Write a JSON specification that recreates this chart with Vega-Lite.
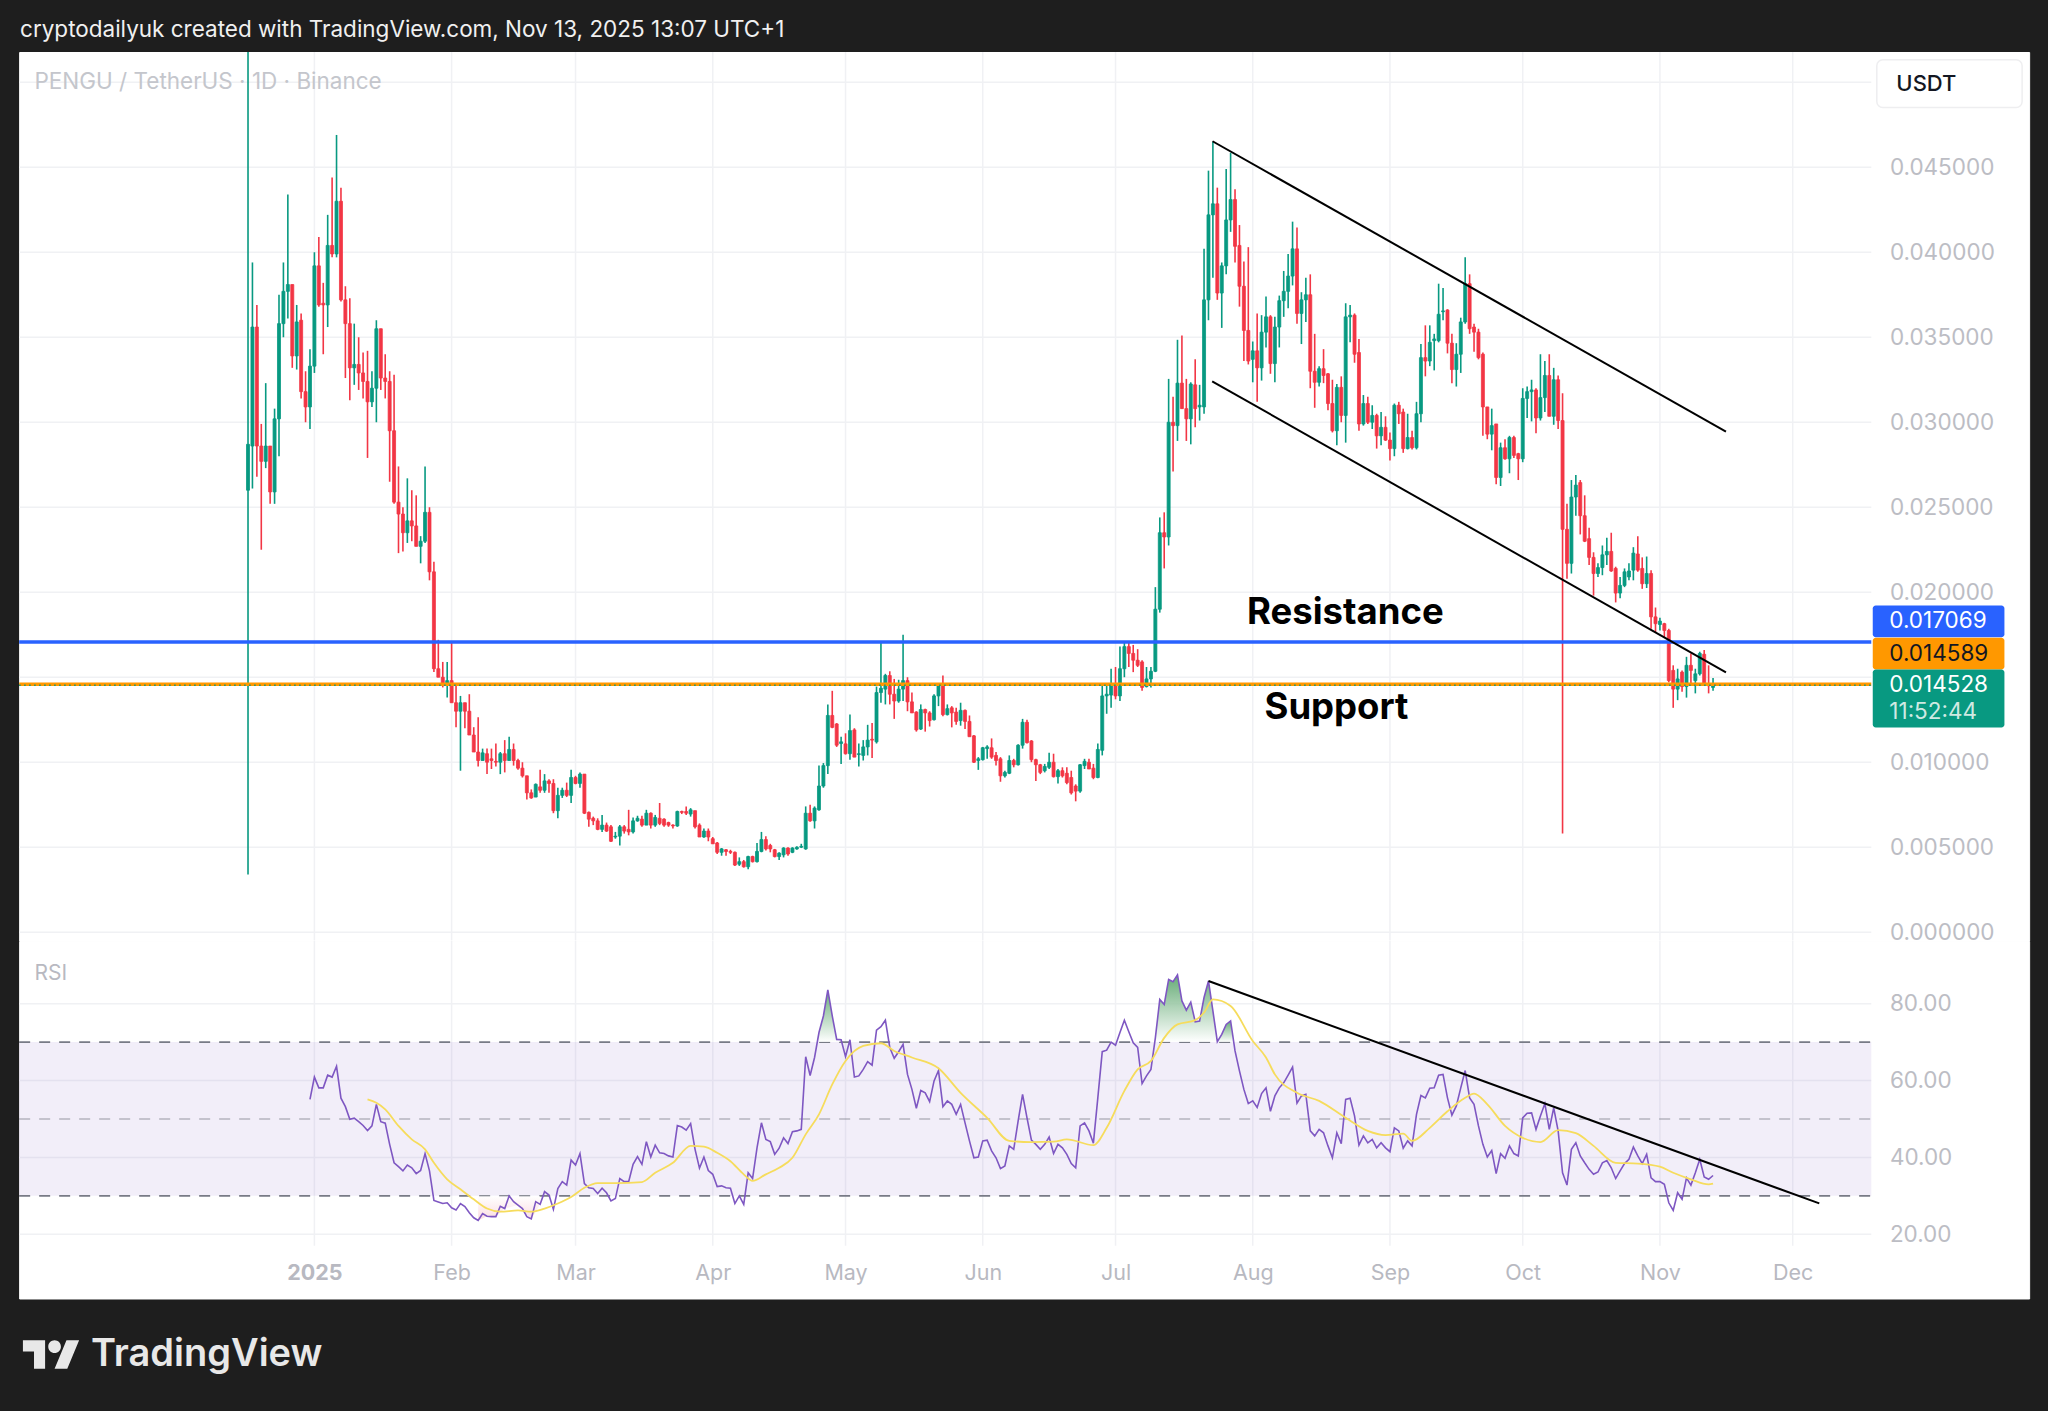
{
"$schema":"https://vega.github.io/schema/vega-lite/v6.json",
"background":"#1e1e1e",
"padding":{"left":16.15,"top":0,"right":19.25,"bottom":0},
"spacing":0,
"bounds":"flush",
"config":{"view":{"stroke":null},"font":"Inter","concat":{"spacing":0}},
"datasets":{
"months":[
{"d":"2025-01-01","plo":-0.000488,"phi":0.05178,"rlo":17,"rhi":96.3},
{"d":"2025-02-01","plo":-0.000488,"phi":0.05178,"rlo":17,"rhi":96.3},
{"d":"2025-03-01","plo":-0.000488,"phi":0.05178,"rlo":17,"rhi":96.3},
{"d":"2025-04-01","plo":-0.000488,"phi":0.05178,"rlo":17,"rhi":96.3},
{"d":"2025-05-01","plo":-0.000488,"phi":0.05178,"rlo":17,"rhi":96.3},
{"d":"2025-06-01","plo":-0.000488,"phi":0.05178,"rlo":17,"rhi":96.3},
{"d":"2025-07-01","plo":-0.000488,"phi":0.05178,"rlo":17,"rhi":96.3},
{"d":"2025-08-01","plo":-0.000488,"phi":0.05178,"rlo":17,"rhi":96.3},
{"d":"2025-09-01","plo":-0.000488,"phi":0.05178,"rlo":17,"rhi":96.3},
{"d":"2025-10-01","plo":-0.000488,"phi":0.05178,"rlo":17,"rhi":96.3},
{"d":"2025-11-01","plo":-0.000488,"phi":0.05178,"rlo":17,"rhi":96.3},
{"d":"2025-12-01","plo":-0.000488,"phi":0.05178,"rlo":17,"rhi":96.3}],
"ohlc":[
{"d":"2024-12-17","o":0.026,"h":0.05178,"l":0.0034,"c":0.0287},
{"d":"2024-12-18","o":0.0286,"h":0.0394,"l":0.0261,"c":0.0356},
{"d":"2024-12-19","o":0.0356,"h":0.0369,"l":0.0268,"c":0.0286},
{"d":"2024-12-20","o":0.0286,"h":0.0299,"l":0.0225,"c":0.0277},
{"d":"2024-12-21","o":0.0277,"h":0.0323,"l":0.0273,"c":0.0286},
{"d":"2024-12-22","o":0.0286,"h":0.0286,"l":0.0252,"c":0.0259},
{"d":"2024-12-23","o":0.0259,"h":0.0308,"l":0.0252,"c":0.0302},
{"d":"2024-12-24","o":0.0302,"h":0.0375,"l":0.028,"c":0.0358},
{"d":"2024-12-25","o":0.0358,"h":0.0394,"l":0.035,"c":0.0377},
{"d":"2024-12-26","o":0.0377,"h":0.0434,"l":0.0361,"c":0.0381},
{"d":"2024-12-27","o":0.0381,"h":0.0381,"l":0.0332,"c":0.0339},
{"d":"2024-12-28","o":0.0339,"h":0.0369,"l":0.0331,"c":0.0359},
{"d":"2024-12-29","o":0.036,"h":0.0364,"l":0.0314,"c":0.0318},
{"d":"2024-12-30","o":0.0318,"h":0.033,"l":0.03,"c":0.0309},
{"d":"2024-12-31","o":0.0309,"h":0.0343,"l":0.0296,"c":0.0333},
{"d":"2025-01-01","o":0.0333,"h":0.04,"l":0.0329,"c":0.0392},
{"d":"2025-01-02","o":0.0392,"h":0.0409,"l":0.0368,"c":0.0369},
{"d":"2025-01-03","o":0.037,"h":0.0382,"l":0.034,"c":0.0369},
{"d":"2025-01-04","o":0.0369,"h":0.0422,"l":0.0356,"c":0.0404},
{"d":"2025-01-05","o":0.0404,"h":0.0444,"l":0.0397,"c":0.0399},
{"d":"2025-01-06","o":0.0399,"h":0.0469,"l":0.0397,"c":0.043},
{"d":"2025-01-07","o":0.043,"h":0.0438,"l":0.0371,"c":0.0372},
{"d":"2025-01-08","o":0.0372,"h":0.038,"l":0.0326,"c":0.0358},
{"d":"2025-01-09","o":0.0358,"h":0.0373,"l":0.0313,"c":0.0332},
{"d":"2025-01-10","o":0.0332,"h":0.0358,"l":0.0322,"c":0.0334},
{"d":"2025-01-11","o":0.0334,"h":0.035,"l":0.0319,"c":0.0329},
{"d":"2025-01-12","o":0.0329,"h":0.0341,"l":0.0314,"c":0.0324},
{"d":"2025-01-13","o":0.0324,"h":0.0342,"l":0.0279,"c":0.0312},
{"d":"2025-01-14","o":0.0312,"h":0.033,"l":0.0309,"c":0.032},
{"d":"2025-01-15","o":0.032,"h":0.036,"l":0.03,"c":0.0355},
{"d":"2025-01-16","o":0.0355,"h":0.0355,"l":0.0319,"c":0.0326},
{"d":"2025-01-17","o":0.0326,"h":0.034,"l":0.0314,"c":0.0324},
{"d":"2025-01-18","o":0.0324,"h":0.033,"l":0.0265,"c":0.0295},
{"d":"2025-01-19","o":0.0295,"h":0.0328,"l":0.0252,"c":0.0253},
{"d":"2025-01-20","o":0.0253,"h":0.0274,"l":0.0223,"c":0.0246},
{"d":"2025-01-21","o":0.0246,"h":0.025,"l":0.0224,"c":0.0235},
{"d":"2025-01-22","o":0.0235,"h":0.0267,"l":0.0229,"c":0.0242},
{"d":"2025-01-23","o":0.0242,"h":0.026,"l":0.023,"c":0.0239},
{"d":"2025-01-24","o":0.0239,"h":0.0257,"l":0.0227,"c":0.0227},
{"d":"2025-01-25","o":0.0227,"h":0.0233,"l":0.0217,"c":0.023},
{"d":"2025-01-26","o":0.023,"h":0.0274,"l":0.0229,"c":0.0247},
{"d":"2025-01-27","o":0.0247,"h":0.025,"l":0.0207,"c":0.0212},
{"d":"2025-01-28","o":0.0212,"h":0.0218,"l":0.0153,"c":0.0155},
{"d":"2025-01-29","o":0.0155,"h":0.0172,"l":0.015,"c":0.015},
{"d":"2025-01-30","o":0.015,"h":0.0159,"l":0.0144,"c":0.0146},
{"d":"2025-01-31","o":0.0146,"h":0.0159,"l":0.0138,"c":0.0148},
{"d":"2025-02-01","o":0.0148,"h":0.0171,"l":0.0135,"c":0.0135},
{"d":"2025-02-02","o":0.0135,"h":0.0146,"l":0.01205,"c":0.013},
{"d":"2025-02-03","o":0.013,"h":0.0139,"l":0.0095,"c":0.0135},
{"d":"2025-02-04","o":0.0135,"h":0.0135,"l":0.012,"c":0.013},
{"d":"2025-02-05","o":0.013,"h":0.014,"l":0.0116,"c":0.0116},
{"d":"2025-02-06","o":0.0116,"h":0.01206,"l":0.0106,"c":0.0106},
{"d":"2025-02-07","o":0.0106,"h":0.01265,"l":0.00975,"c":0.0101},
{"d":"2025-02-08","o":0.0101,"h":0.0108,"l":0.0101,"c":0.01055},
{"d":"2025-02-09","o":0.0105,"h":0.0108,"l":0.0093,"c":0.01},
{"d":"2025-02-10","o":0.0102,"h":0.0108,"l":0.0096,"c":0.0101},
{"d":"2025-02-11","o":0.01005,"h":0.0111,"l":0.00975,"c":0.01},
{"d":"2025-02-12","o":0.01,"h":0.0106,"l":0.0093,"c":0.0105},
{"d":"2025-02-13","o":0.0105,"h":0.0113,"l":0.0094,"c":0.0101},
{"d":"2025-02-14","o":0.0101,"h":0.0115,"l":0.0101,"c":0.01075},
{"d":"2025-02-15","o":0.01075,"h":0.0111,"l":0.0098,"c":0.0101},
{"d":"2025-02-16","o":0.0101,"h":0.0102,"l":0.00955,"c":0.00965},
{"d":"2025-02-17","o":0.00965,"h":0.01,"l":0.0091,"c":0.0092},
{"d":"2025-02-18","o":0.0092,"h":0.0092,"l":0.0078,"c":0.0082},
{"d":"2025-02-19","o":0.0082,"h":0.0084,"l":0.00785,"c":0.0079},
{"d":"2025-02-20","o":0.00795,"h":0.00875,"l":0.00795,"c":0.0087},
{"d":"2025-02-21","o":0.00855,"h":0.00955,"l":0.0082,"c":0.00835},
{"d":"2025-02-22","o":0.00835,"h":0.0093,"l":0.0082,"c":0.0089},
{"d":"2025-02-23","o":0.0089,"h":0.009,"l":0.0082,"c":0.00875},
{"d":"2025-02-24","o":0.00875,"h":0.009,"l":0.007,"c":0.00715},
{"d":"2025-02-25","o":0.00715,"h":0.0085,"l":0.0067,"c":0.00805},
{"d":"2025-02-26","o":0.00805,"h":0.0085,"l":0.0079,"c":0.00835},
{"d":"2025-02-27","o":0.00835,"h":0.0088,"l":0.00795,"c":0.00805},
{"d":"2025-02-28","o":0.00805,"h":0.00955,"l":0.0076,"c":0.0091},
{"d":"2025-03-01","o":0.0091,"h":0.0092,"l":0.0087,"c":0.00875},
{"d":"2025-03-02","o":0.00875,"h":0.0094,"l":0.0085,"c":0.0093},
{"d":"2025-03-03","o":0.0093,"h":0.0093,"l":0.00695,"c":0.007},
{"d":"2025-03-04","o":0.00705,"h":0.0071,"l":0.0062,"c":0.00665},
{"d":"2025-03-05","o":0.0067,"h":0.0068,"l":0.0063,"c":0.00655},
{"d":"2025-03-06","o":0.00655,"h":0.0067,"l":0.006,"c":0.00605},
{"d":"2025-03-07","o":0.00605,"h":0.0069,"l":0.0059,"c":0.0063},
{"d":"2025-03-08","o":0.0063,"h":0.00645,"l":0.0059,"c":0.00595},
{"d":"2025-03-09","o":0.0062,"h":0.0063,"l":0.0053,"c":0.00535},
{"d":"2025-03-10","o":0.0056,"h":0.0059,"l":0.0055,"c":0.00565},
{"d":"2025-03-11","o":0.00565,"h":0.0063,"l":0.0051,"c":0.0062},
{"d":"2025-03-12","o":0.0062,"h":0.0063,"l":0.0058,"c":0.00595},
{"d":"2025-03-13","o":0.00605,"h":0.0072,"l":0.0057,"c":0.0059},
{"d":"2025-03-14","o":0.0059,"h":0.00675,"l":0.0058,"c":0.00655},
{"d":"2025-03-15","o":0.00655,"h":0.00685,"l":0.0065,"c":0.0067},
{"d":"2025-03-16","o":0.00665,"h":0.00685,"l":0.0062,"c":0.0063},
{"d":"2025-03-17","o":0.0063,"h":0.0072,"l":0.0063,"c":0.007},
{"d":"2025-03-18","o":0.007,"h":0.00705,"l":0.0061,"c":0.0063},
{"d":"2025-03-19","o":0.0063,"h":0.0069,"l":0.0062,"c":0.00675},
{"d":"2025-03-20","o":0.0067,"h":0.0076,"l":0.0063,"c":0.0064},
{"d":"2025-03-21","o":0.00665,"h":0.0067,"l":0.0062,"c":0.0063},
{"d":"2025-03-22","o":0.00645,"h":0.0065,"l":0.0062,"c":0.0063},
{"d":"2025-03-23","o":0.0063,"h":0.00635,"l":0.0061,"c":0.00625},
{"d":"2025-03-24","o":0.00625,"h":0.00715,"l":0.0062,"c":0.0071},
{"d":"2025-03-25","o":0.0071,"h":0.00715,"l":0.00695,"c":0.00705},
{"d":"2025-03-26","o":0.0071,"h":0.0074,"l":0.0069,"c":0.007},
{"d":"2025-03-27","o":0.00695,"h":0.0073,"l":0.0068,"c":0.0072},
{"d":"2025-03-28","o":0.00715,"h":0.00715,"l":0.0061,"c":0.0062},
{"d":"2025-03-29","o":0.0063,"h":0.0064,"l":0.0056,"c":0.0056},
{"d":"2025-03-30","o":0.0056,"h":0.0061,"l":0.00555,"c":0.00595},
{"d":"2025-03-31","o":0.00595,"h":0.0061,"l":0.00535,"c":0.0056},
{"d":"2025-04-01","o":0.0055,"h":0.0056,"l":0.0052,"c":0.0052},
{"d":"2025-04-02","o":0.00525,"h":0.0053,"l":0.0046,"c":0.0047},
{"d":"2025-04-03","o":0.0047,"h":0.00495,"l":0.0045,"c":0.0049},
{"d":"2025-04-04","o":0.00485,"h":0.0049,"l":0.0045,"c":0.00475},
{"d":"2025-04-05","o":0.00475,"h":0.00485,"l":0.0046,"c":0.0047},
{"d":"2025-04-06","o":0.0047,"h":0.00475,"l":0.0039,"c":0.00395},
{"d":"2025-04-07","o":0.004,"h":0.0044,"l":0.0039,"c":0.00415},
{"d":"2025-04-08","o":0.00415,"h":0.00425,"l":0.0038,"c":0.00385},
{"d":"2025-04-09","o":0.00385,"h":0.0045,"l":0.0037,"c":0.00445},
{"d":"2025-04-10","o":0.00445,"h":0.0045,"l":0.0041,"c":0.00415},
{"d":"2025-04-11","o":0.00415,"h":0.00525,"l":0.0041,"c":0.00475},
{"d":"2025-04-12","o":0.00475,"h":0.0059,"l":0.0047,"c":0.00545},
{"d":"2025-04-13","o":0.00545,"h":0.00565,"l":0.0048,"c":0.0049},
{"d":"2025-04-14","o":0.0051,"h":0.0052,"l":0.0047,"c":0.0049},
{"d":"2025-04-15","o":0.00485,"h":0.0049,"l":0.0044,"c":0.00445},
{"d":"2025-04-16","o":0.00445,"h":0.0047,"l":0.00425,"c":0.00465},
{"d":"2025-04-17","o":0.00455,"h":0.005,"l":0.0044,"c":0.00495},
{"d":"2025-04-18","o":0.00495,"h":0.005,"l":0.0045,"c":0.0046},
{"d":"2025-04-19","o":0.0047,"h":0.005,"l":0.00465,"c":0.00495},
{"d":"2025-04-20","o":0.0049,"h":0.00505,"l":0.00485,"c":0.005},
{"d":"2025-04-21","o":0.005,"h":0.0052,"l":0.00495,"c":0.00505},
{"d":"2025-04-22","o":0.0049,"h":0.0074,"l":0.00485,"c":0.007},
{"d":"2025-04-23","o":0.007,"h":0.0075,"l":0.0065,"c":0.00655},
{"d":"2025-04-24","o":0.00655,"h":0.0074,"l":0.0061,"c":0.0073},
{"d":"2025-04-25","o":0.0072,"h":0.0098,"l":0.00715,"c":0.0086},
{"d":"2025-04-26","o":0.0086,"h":0.00995,"l":0.0085,"c":0.0098},
{"d":"2025-04-27","o":0.0098,"h":0.0134,"l":0.0093,"c":0.01275},
{"d":"2025-04-28","o":0.01275,"h":0.0142,"l":0.012,"c":0.01205},
{"d":"2025-04-29","o":0.01225,"h":0.0123,"l":0.0109,"c":0.011},
{"d":"2025-04-30","o":0.0111,"h":0.0115,"l":0.0099,"c":0.0112},
{"d":"2025-05-01","o":0.01108,"h":0.0117,"l":0.01045,"c":0.0105},
{"d":"2025-05-02","o":0.0105,"h":0.0128,"l":0.01015,"c":0.01186},
{"d":"2025-05-03","o":0.0119,"h":0.012,"l":0.0103,"c":0.0103},
{"d":"2025-05-04","o":0.01045,"h":0.0111,"l":0.00975,"c":0.0105},
{"d":"2025-05-05","o":0.0104,"h":0.0113,"l":0.0101,"c":0.0109},
{"d":"2025-05-06","o":0.0109,"h":0.0122,"l":0.0104,"c":0.0113},
{"d":"2025-05-07","o":0.01135,"h":0.0123,"l":0.01025,"c":0.0113},
{"d":"2025-05-08","o":0.0112,"h":0.01445,"l":0.0111,"c":0.0141},
{"d":"2025-05-09","o":0.0141,"h":0.01705,"l":0.0135,"c":0.01435},
{"d":"2025-05-10","o":0.0143,"h":0.0152,"l":0.0134,"c":0.0151},
{"d":"2025-05-11","o":0.0151,"h":0.01535,"l":0.0134,"c":0.014},
{"d":"2025-05-12","o":0.014,"h":0.0149,"l":0.01255,"c":0.0136},
{"d":"2025-05-13","o":0.0136,"h":0.01485,"l":0.0135,"c":0.0143},
{"d":"2025-05-14","o":0.0143,"h":0.0175,"l":0.0136,"c":0.0148},
{"d":"2025-05-15","o":0.0148,"h":0.015,"l":0.013,"c":0.01355},
{"d":"2025-05-16","o":0.01355,"h":0.0141,"l":0.0129,"c":0.0129},
{"d":"2025-05-17","o":0.01295,"h":0.013,"l":0.0118,"c":0.0119},
{"d":"2025-05-18","o":0.01195,"h":0.0134,"l":0.0119,"c":0.0131},
{"d":"2025-05-19","o":0.0131,"h":0.01315,"l":0.0118,"c":0.0129},
{"d":"2025-05-20","o":0.0129,"h":0.0130,"l":0.0121,"c":0.01245},
{"d":"2025-05-21","o":0.0125,"h":0.014,"l":0.01245,"c":0.0139},
{"d":"2025-05-22","o":0.0139,"h":0.01465,"l":0.0133,"c":0.01455},
{"d":"2025-05-23","o":0.01455,"h":0.0151,"l":0.0127,"c":0.0128},
{"d":"2025-05-24","o":0.0128,"h":0.0134,"l":0.01275,"c":0.01315},
{"d":"2025-05-25","o":0.0132,"h":0.0133,"l":0.01205,"c":0.0129},
{"d":"2025-05-26","o":0.01295,"h":0.0132,"l":0.0122,"c":0.0124},
{"d":"2025-05-27","o":0.01245,"h":0.0135,"l":0.01215,"c":0.01305},
{"d":"2025-05-28","o":0.01305,"h":0.0131,"l":0.01196,"c":0.0124},
{"d":"2025-05-29","o":0.0124,"h":0.01275,"l":0.0115,"c":0.0115},
{"d":"2025-05-30","o":0.01155,"h":0.0116,"l":0.00995,"c":0.01},
{"d":"2025-05-31","o":0.0101,"h":0.0103,"l":0.00955,"c":0.0102},
{"d":"2025-06-01","o":0.01015,"h":0.0109,"l":0.0101,"c":0.01085},
{"d":"2025-06-02","o":0.0108,"h":0.011,"l":0.0102,"c":0.0109},
{"d":"2025-06-03","o":0.01085,"h":0.0114,"l":0.0102,"c":0.0103},
{"d":"2025-06-04","o":0.0104,"h":0.0106,"l":0.0098,"c":0.0101},
{"d":"2025-06-05","o":0.0102,"h":0.0103,"l":0.00885,"c":0.0092},
{"d":"2025-06-06","o":0.0092,"h":0.0095,"l":0.0091,"c":0.0094},
{"d":"2025-06-07","o":0.00935,"h":0.0104,"l":0.0093,"c":0.0101},
{"d":"2025-06-08","o":0.0101,"h":0.0102,"l":0.0097,"c":0.00985},
{"d":"2025-06-09","o":0.00985,"h":0.01105,"l":0.0098,"c":0.011},
{"d":"2025-06-10","o":0.011,"h":0.01255,"l":0.0108,"c":0.01235},
{"d":"2025-06-11","o":0.01235,"h":0.0125,"l":0.0111,"c":0.01115},
{"d":"2025-06-12","o":0.01125,"h":0.0113,"l":0.01,"c":0.01015},
{"d":"2025-06-13","o":0.01015,"h":0.0102,"l":0.0089,"c":0.00985},
{"d":"2025-06-14","o":0.00985,"h":0.0099,"l":0.0093,"c":0.0094},
{"d":"2025-06-15","o":0.0095,"h":0.0099,"l":0.0094,"c":0.00975},
{"d":"2025-06-16","o":0.0097,"h":0.01055,"l":0.0096,"c":0.01},
{"d":"2025-06-17","o":0.01,"h":0.0105,"l":0.0091,"c":0.00915},
{"d":"2025-06-18","o":0.00915,"h":0.0096,"l":0.00875,"c":0.0095},
{"d":"2025-06-19","o":0.0095,"h":0.0097,"l":0.0091,"c":0.0092},
{"d":"2025-06-20","o":0.00935,"h":0.0097,"l":0.0087,"c":0.0088},
{"d":"2025-06-21","o":0.0091,"h":0.0095,"l":0.0081,"c":0.0082},
{"d":"2025-06-22","o":0.0086,"h":0.0087,"l":0.0077,"c":0.0083},
{"d":"2025-06-23","o":0.0083,"h":0.0099,"l":0.0082,"c":0.00985},
{"d":"2025-06-24","o":0.0098,"h":0.0102,"l":0.0096,"c":0.01005},
{"d":"2025-06-25","o":0.01,"h":0.0102,"l":0.0096,"c":0.0096},
{"d":"2025-06-26","o":0.00965,"h":0.0099,"l":0.009,"c":0.0091},
{"d":"2025-06-27","o":0.0091,"h":0.0111,"l":0.00905,"c":0.01075},
{"d":"2025-06-28","o":0.0107,"h":0.0145,"l":0.0104,"c":0.0139},
{"d":"2025-06-29","o":0.0139,"h":0.0146,"l":0.01285,"c":0.014},
{"d":"2025-06-30","o":0.01395,"h":0.0155,"l":0.0132,"c":0.0146},
{"d":"2025-07-01","o":0.0146,"h":0.0156,"l":0.0137,"c":0.0139},
{"d":"2025-07-02","o":0.0139,"h":0.0168,"l":0.0136,"c":0.0155},
{"d":"2025-07-03","o":0.0155,"h":0.01705,"l":0.015,"c":0.0168},
{"d":"2025-07-04","o":0.0168,"h":0.0171,"l":0.0156,"c":0.0164},
{"d":"2025-07-05","o":0.0164,"h":0.0169,"l":0.0153,"c":0.016},
{"d":"2025-07-06","o":0.016,"h":0.01665,"l":0.0156,"c":0.0157},
{"d":"2025-07-07","o":0.0159,"h":0.016,"l":0.0142,"c":0.0144},
{"d":"2025-07-08","o":0.01445,"h":0.0156,"l":0.0144,"c":0.0149},
{"d":"2025-07-09","o":0.0149,"h":0.0156,"l":0.0144,"c":0.01535},
{"d":"2025-07-10","o":0.01535,"h":0.0203,"l":0.0153,"c":0.019},
{"d":"2025-07-11","o":0.019,"h":0.0244,"l":0.0188,"c":0.0235},
{"d":"2025-07-12","o":0.0235,"h":0.0247,"l":0.0214,"c":0.02325},
{"d":"2025-07-13","o":0.02325,"h":0.03255,"l":0.02275,"c":0.03},
{"d":"2025-07-14","o":0.03,"h":0.0315,"l":0.0271,"c":0.0298},
{"d":"2025-07-15","o":0.0298,"h":0.03485,"l":0.0289,"c":0.0323},
{"d":"2025-07-16","o":0.0323,"h":0.0351,"l":0.0308,"c":0.0308},
{"d":"2025-07-17","o":0.0308,"h":0.03255,"l":0.0289,"c":0.0302},
{"d":"2025-07-18","o":0.0302,"h":0.03235,"l":0.0287,"c":0.03225},
{"d":"2025-07-19","o":0.0322,"h":0.0337,"l":0.0297,"c":0.0308},
{"d":"2025-07-20","o":0.0309,"h":0.0322,"l":0.0301,"c":0.031},
{"d":"2025-07-21","o":0.0309,"h":0.0402,"l":0.0305,"c":0.0372},
{"d":"2025-07-22","o":0.0372,"h":0.0448,"l":0.036,"c":0.0422},
{"d":"2025-07-23","o":0.0422,"h":0.0465,"l":0.0385,"c":0.04285},
{"d":"2025-07-24","o":0.04285,"h":0.0438,"l":0.0372,"c":0.0376},
{"d":"2025-07-25","o":0.0376,"h":0.0394,"l":0.03555,"c":0.0392},
{"d":"2025-07-26","o":0.0392,"h":0.0449,"l":0.0387,"c":0.0419},
{"d":"2025-07-27","o":0.0419,"h":0.04585,"l":0.0412,"c":0.0431},
{"d":"2025-07-28","o":0.0431,"h":0.0437,"l":0.0394,"c":0.04035},
{"d":"2025-07-29","o":0.0404,"h":0.0416,"l":0.0368,"c":0.038},
{"d":"2025-07-30","o":0.038,"h":0.03945,"l":0.0336,"c":0.0354},
{"d":"2025-07-31","o":0.0354,"h":0.0403,"l":0.0334,"c":0.0336},
{"d":"2025-08-01","o":0.0337,"h":0.03475,"l":0.03235,"c":0.0342},
{"d":"2025-08-02","o":0.0342,"h":0.0364,"l":0.0312,"c":0.0332},
{"d":"2025-08-03","o":0.0332,"h":0.0363,"l":0.03245,"c":0.0353},
{"d":"2025-08-04","o":0.0353,"h":0.0374,"l":0.0344,"c":0.0362},
{"d":"2025-08-05","o":0.0362,"h":0.0363,"l":0.03285,"c":0.03345},
{"d":"2025-08-06","o":0.03345,"h":0.0362,"l":0.03235,"c":0.0356},
{"d":"2025-08-07","o":0.0356,"h":0.03745,"l":0.0344,"c":0.03715},
{"d":"2025-08-08","o":0.03715,"h":0.0389,"l":0.0362,"c":0.0377},
{"d":"2025-08-09","o":0.0377,"h":0.0399,"l":0.0367,"c":0.0386},
{"d":"2025-08-10","o":0.0386,"h":0.0418,"l":0.03805,"c":0.0402},
{"d":"2025-08-11","o":0.0402,"h":0.04145,"l":0.0358,"c":0.0364},
{"d":"2025-08-12","o":0.0364,"h":0.03765,"l":0.0346,"c":0.0372},
{"d":"2025-08-13","o":0.0372,"h":0.0385,"l":0.0359,"c":0.0375},
{"d":"2025-08-14","o":0.0375,"h":0.0387,"l":0.032,"c":0.033},
{"d":"2025-08-15","o":0.033,"h":0.0352,"l":0.03085,"c":0.03235},
{"d":"2025-08-16","o":0.03235,"h":0.0333,"l":0.0321,"c":0.03315},
{"d":"2025-08-17","o":0.03315,"h":0.0343,"l":0.0323,"c":0.03275},
{"d":"2025-08-18","o":0.03285,"h":0.0329,"l":0.0307,"c":0.0311},
{"d":"2025-08-19","o":0.0311,"h":0.0325,"l":0.0294,"c":0.0295},
{"d":"2025-08-20","o":0.0295,"h":0.03225,"l":0.02865,"c":0.03205},
{"d":"2025-08-21","o":0.03205,"h":0.0327,"l":0.03,"c":0.0304},
{"d":"2025-08-22","o":0.0304,"h":0.037,"l":0.0288,"c":0.0362},
{"d":"2025-08-23","o":0.0362,"h":0.0369,"l":0.0347,"c":0.0363},
{"d":"2025-08-24","o":0.0363,"h":0.0364,"l":0.0335,"c":0.034},
{"d":"2025-08-25","o":0.0341,"h":0.0349,"l":0.0295,"c":0.0299},
{"d":"2025-08-26","o":0.0299,"h":0.0316,"l":0.0298,"c":0.0311},
{"d":"2025-08-27","o":0.0311,"h":0.0315,"l":0.0299,"c":0.03},
{"d":"2025-08-28","o":0.03,"h":0.031,"l":0.0296,"c":0.0304},
{"d":"2025-08-29","o":0.0304,"h":0.0305,"l":0.02845,"c":0.0292},
{"d":"2025-08-30","o":0.0292,"h":0.0306,"l":0.02865,"c":0.0297},
{"d":"2025-08-31","o":0.0297,"h":0.03035,"l":0.0289,"c":0.02895},
{"d":"2025-09-01","o":0.02895,"h":0.0294,"l":0.02775,"c":0.02845},
{"d":"2025-09-02","o":0.02845,"h":0.0311,"l":0.028,"c":0.031},
{"d":"2025-09-03","o":0.031,"h":0.0312,"l":0.0299,"c":0.0305},
{"d":"2025-09-04","o":0.0306,"h":0.0308,"l":0.0282,"c":0.02845},
{"d":"2025-09-05","o":0.02845,"h":0.0305,"l":0.0284,"c":0.0291},
{"d":"2025-09-06","o":0.0291,"h":0.0295,"l":0.0284,"c":0.0285},
{"d":"2025-09-07","o":0.0285,"h":0.0312,"l":0.0284,"c":0.0305},
{"d":"2025-09-08","o":0.0305,"h":0.0346,"l":0.03,"c":0.0338},
{"d":"2025-09-09","o":0.0338,"h":0.0357,"l":0.0327,"c":0.0336},
{"d":"2025-09-10","o":0.0336,"h":0.0357,"l":0.0333,"c":0.0347},
{"d":"2025-09-11","o":0.0348,"h":0.0352,"l":0.03305,"c":0.0349},
{"d":"2025-09-12","o":0.0348,"h":0.03815,"l":0.0347,"c":0.03635},
{"d":"2025-09-13","o":0.0365,"h":0.0379,"l":0.036,"c":0.03655},
{"d":"2025-09-14","o":0.0366,"h":0.03665,"l":0.03405,"c":0.03465},
{"d":"2025-09-15","o":0.03465,"h":0.0352,"l":0.0323,"c":0.0331},
{"d":"2025-09-16","o":0.0331,"h":0.03465,"l":0.0321,"c":0.034},
{"d":"2025-09-17","o":0.034,"h":0.03615,"l":0.0329,"c":0.0359},
{"d":"2025-09-18","o":0.0359,"h":0.0397,"l":0.0358,"c":0.03815},
{"d":"2025-09-19","o":0.03815,"h":0.0387,"l":0.0352,"c":0.0355},
{"d":"2025-09-20","o":0.0356,"h":0.0358,"l":0.03415,"c":0.0353},
{"d":"2025-09-21","o":0.0353,"h":0.0355,"l":0.0337,"c":0.0338},
{"d":"2025-09-22","o":0.034,"h":0.0341,"l":0.0292,"c":0.0309},
{"d":"2025-09-23","o":0.0309,"h":0.0309,"l":0.029,"c":0.0293},
{"d":"2025-09-24","o":0.0293,"h":0.0308,"l":0.02835,"c":0.0298},
{"d":"2025-09-25","o":0.0299,"h":0.0299,"l":0.02635,"c":0.02675},
{"d":"2025-09-26","o":0.02675,"h":0.0288,"l":0.02625,"c":0.0285},
{"d":"2025-09-27","o":0.0285,"h":0.029,"l":0.0278,"c":0.02785},
{"d":"2025-09-28","o":0.02785,"h":0.0292,"l":0.027,"c":0.0291},
{"d":"2025-09-29","o":0.0291,"h":0.0292,"l":0.0279,"c":0.02805},
{"d":"2025-09-30","o":0.02815,"h":0.0282,"l":0.0266,"c":0.02785},
{"d":"2025-10-01","o":0.02785,"h":0.032,"l":0.02765,"c":0.0314},
{"d":"2025-10-02","o":0.0314,"h":0.0321,"l":0.03025,"c":0.0318},
{"d":"2025-10-03","o":0.0318,"h":0.0325,"l":0.03005,"c":0.0319},
{"d":"2025-10-04","o":0.0319,"h":0.032,"l":0.02935,"c":0.03025},
{"d":"2025-10-05","o":0.03025,"h":0.034,"l":0.0301,"c":0.03145},
{"d":"2025-10-06","o":0.03145,"h":0.0336,"l":0.0306,"c":0.03275},
{"d":"2025-10-07","o":0.03275,"h":0.034,"l":0.03035,"c":0.03035},
{"d":"2025-10-08","o":0.03035,"h":0.0332,"l":0.02985,"c":0.0325},
{"d":"2025-10-09","o":0.0325,"h":0.03275,"l":0.0296,"c":0.0301},
{"d":"2025-10-10","o":0.0301,"h":0.0317,"l":0.0058,"c":0.0237},
{"d":"2025-10-11","o":0.0237,"h":0.0252,"l":0.0208,"c":0.0217},
{"d":"2025-10-12","o":0.0217,"h":0.0266,"l":0.0211,"c":0.0256},
{"d":"2025-10-13","o":0.0256,"h":0.0269,"l":0.0245,"c":0.0263},
{"d":"2025-10-14","o":0.02645,"h":0.0266,"l":0.0234,"c":0.0245},
{"d":"2025-10-15","o":0.0245,"h":0.0257,"l":0.02295,"c":0.023},
{"d":"2025-10-16","o":0.02315,"h":0.0238,"l":0.0216,"c":0.02205},
{"d":"2025-10-17","o":0.02205,"h":0.02235,"l":0.0198,"c":0.0211},
{"d":"2025-10-18","o":0.0211,"h":0.0217,"l":0.0209,"c":0.02145},
{"d":"2025-10-19","o":0.02145,"h":0.02275,"l":0.021,"c":0.0222},
{"d":"2025-10-20","o":0.0222,"h":0.0232,"l":0.0216,"c":0.0224},
{"d":"2025-10-21","o":0.0224,"h":0.0235,"l":0.0212,"c":0.02125},
{"d":"2025-10-22","o":0.0214,"h":0.0215,"l":0.0194,"c":0.01995},
{"d":"2025-10-23","o":0.01995,"h":0.0209,"l":0.01965,"c":0.0204},
{"d":"2025-10-24","o":0.0204,"h":0.0214,"l":0.0203,"c":0.0212},
{"d":"2025-10-25","o":0.0209,"h":0.0217,"l":0.0207,"c":0.02125},
{"d":"2025-10-26","o":0.0213,"h":0.02265,"l":0.0207,"c":0.0223},
{"d":"2025-10-27","o":0.02225,"h":0.0233,"l":0.0212,"c":0.0213},
{"d":"2025-10-28","o":0.0214,"h":0.02205,"l":0.0202,"c":0.0205},
{"d":"2025-10-29","o":0.0205,"h":0.0221,"l":0.02025,"c":0.0211},
{"d":"2025-10-30","o":0.0211,"h":0.0213,"l":0.01785,"c":0.01855},
{"d":"2025-10-31","o":0.01855,"h":0.0191,"l":0.0176,"c":0.01815},
{"d":"2025-11-01","o":0.0181,"h":0.0185,"l":0.01775,"c":0.0183},
{"d":"2025-11-02","o":0.01815,"h":0.0182,"l":0.01735,"c":0.01775},
{"d":"2025-11-03","o":0.01775,"h":0.01785,"l":0.0147,"c":0.0148},
{"d":"2025-11-04","o":0.0154,"h":0.0157,"l":0.0132,"c":0.0143},
{"d":"2025-11-05","o":0.0143,"h":0.0155,"l":0.01365,"c":0.0149},
{"d":"2025-11-06","o":0.0153,"h":0.0154,"l":0.01415,"c":0.01445},
{"d":"2025-11-07","o":0.01445,"h":0.0162,"l":0.0138,"c":0.0157},
{"d":"2025-11-08","o":0.0157,"h":0.0164,"l":0.0146,"c":0.0154},
{"d":"2025-11-09","o":0.0148,"h":0.0155,"l":0.01405,"c":0.0152},
{"d":"2025-11-10","o":0.0152,"h":0.0165,"l":0.0151,"c":0.0164},
{"d":"2025-11-11","o":0.01635,"h":0.0166,"l":0.0145,"c":0.0146},
{"d":"2025-11-12","o":0.0146,"h":0.0157,"l":0.01405,"c":0.0145},
{"d":"2025-11-13","o":0.0144,"h":0.01495,"l":0.0142,"c":0.014528}
],
"rsi":[
{"d":"2024-12-31","r":55.1},{"d":"2025-01-01","r":60.9},{"d":"2025-01-02","r":58.1},{"d":"2025-01-03","r":58.1},{"d":"2025-01-04","r":61.4},{"d":"2025-01-05","r":60.9},{"d":"2025-01-06","r":63.7},{"d":"2025-01-07","r":55.4},{"d":"2025-01-08","r":53.2},{"d":"2025-01-09","r":49.9},{"d":"2025-01-10","r":50.2},{"d":"2025-01-11","r":49.3},{"d":"2025-01-12","r":48.3},{"d":"2025-01-13","r":47},{"d":"2025-01-14","r":48.2},{"d":"2025-01-15","r":53.8},{"d":"2025-01-16","r":49.3},{"d":"2025-01-17","r":48.9},{"d":"2025-01-18","r":43.4},{"d":"2025-01-19","r":38.6},{"d":"2025-01-20","r":37.6},{"d":"2025-01-21","r":36.5},{"d":"2025-01-22","r":38},{"d":"2025-01-23","r":37.3},{"d":"2025-01-24","r":35.8},{"d":"2025-01-25","r":36.6},{"d":"2025-01-26","r":41},{"d":"2025-01-27","r":36.5},{"d":"2025-01-28","r":28.8},{"d":"2025-01-29","r":28.4},{"d":"2025-01-30","r":28},{"d":"2025-01-31","r":28.2},
{"d":"2025-02-01","r":26.9},{"d":"2025-02-02","r":26.3},{"d":"2025-02-03","r":28},{"d":"2025-02-04","r":27.2},{"d":"2025-02-05","r":25.6},{"d":"2025-02-06","r":24.3},{"d":"2025-02-07","r":23.6},{"d":"2025-02-08","r":25.4},{"d":"2025-02-09","r":24.7},{"d":"2025-02-10","r":24.6},{"d":"2025-02-11","r":24.6},{"d":"2025-02-12","r":27.3},{"d":"2025-02-13","r":26.7},{"d":"2025-02-14","r":30},{"d":"2025-02-15","r":28.5},{"d":"2025-02-16","r":27.6},{"d":"2025-02-17","r":26.7},{"d":"2025-02-18","r":24.6},{"d":"2025-02-19","r":24},{"d":"2025-02-20","r":28.5},{"d":"2025-02-21","r":27.8},{"d":"2025-02-22","r":31.1},{"d":"2025-02-23","r":30.2},{"d":"2025-02-24","r":26.5},{"d":"2025-02-25","r":31.9},{"d":"2025-02-26","r":33.7},{"d":"2025-02-27","r":32.8},{"d":"2025-02-28","r":39.3},
{"d":"2025-03-01","r":38},{"d":"2025-03-02","r":41},{"d":"2025-03-03","r":33.2},{"d":"2025-03-04","r":32.1},{"d":"2025-03-05","r":31.9},{"d":"2025-03-06","r":30.6},{"d":"2025-03-07","r":32},{"d":"2025-03-08","r":30.8},{"d":"2025-03-09","r":28.7},{"d":"2025-03-10","r":29.3},{"d":"2025-03-11","r":34.5},{"d":"2025-03-12","r":33.7},{"d":"2025-03-13","r":33.7},{"d":"2025-03-14","r":38.2},{"d":"2025-03-15","r":40.2},{"d":"2025-03-16","r":38.2},{"d":"2025-03-17","r":44.1},{"d":"2025-03-18","r":40.1},{"d":"2025-03-19","r":43.2},{"d":"2025-03-20","r":41.2},{"d":"2025-03-21","r":41},{"d":"2025-03-22","r":40.4},{"d":"2025-03-23","r":40.1},{"d":"2025-03-24","r":48.3},{"d":"2025-03-25","r":47.9},{"d":"2025-03-26","r":47.1},{"d":"2025-03-27","r":48.8},{"d":"2025-03-28","r":42.1},{"d":"2025-03-29","r":37.2},{"d":"2025-03-30","r":40.1},{"d":"2025-03-31","r":36.6},
{"d":"2025-04-01","r":35.6},{"d":"2025-04-02","r":32.4},{"d":"2025-04-03","r":32.6},{"d":"2025-04-04","r":32.1},{"d":"2025-04-05","r":32},{"d":"2025-04-06","r":28},{"d":"2025-04-07","r":30},{"d":"2025-04-08","r":27.8},{"d":"2025-04-09","r":36},{"d":"2025-04-10","r":34.5},{"d":"2025-04-11","r":42.5},{"d":"2025-04-12","r":49},{"d":"2025-04-13","r":44.7},{"d":"2025-04-14","r":44.1},{"d":"2025-04-15","r":40.8},{"d":"2025-04-16","r":42.4},{"d":"2025-04-17","r":45.1},{"d":"2025-04-18","r":43.6},{"d":"2025-04-19","r":46.7},{"d":"2025-04-20","r":46.9},{"d":"2025-04-21","r":47.3},{"d":"2025-04-22","r":66.2},{"d":"2025-04-23","r":61.3},{"d":"2025-04-24","r":66},{"d":"2025-04-25","r":72.5},{"d":"2025-04-26","r":76.8},{"d":"2025-04-27","r":83.6},{"d":"2025-04-28","r":76.8},{"d":"2025-04-29","r":70.7},{"d":"2025-04-30","r":70.6},
{"d":"2025-05-01","r":66.2},{"d":"2025-05-02","r":70.6},{"d":"2025-05-03","r":60.9},{"d":"2025-05-04","r":61.2},{"d":"2025-05-05","r":62.9},{"d":"2025-05-06","r":64.9},{"d":"2025-05-07","r":64},{"d":"2025-05-08","r":73.1},{"d":"2025-05-09","r":74},{"d":"2025-05-10","r":75.7},{"d":"2025-05-11","r":68.6},{"d":"2025-05-12","r":65.8},{"d":"2025-05-13","r":67.5},{"d":"2025-05-14","r":69.4},{"d":"2025-05-15","r":61.6},{"d":"2025-05-16","r":57.7},{"d":"2025-05-17","r":52.8},{"d":"2025-05-18","r":57.4},{"d":"2025-05-19","r":56.8},{"d":"2025-05-20","r":54.5},{"d":"2025-05-21","r":59.9},{"d":"2025-05-22","r":62.6},{"d":"2025-05-23","r":53.2},{"d":"2025-05-24","r":54.7},{"d":"2025-05-25","r":53.8},{"d":"2025-05-26","r":51.2},{"d":"2025-05-27","r":53.8},{"d":"2025-05-28","r":49},{"d":"2025-05-29","r":44.3},{"d":"2025-05-30","r":39.9},{"d":"2025-05-31","r":40.1},
{"d":"2025-06-01","r":44.3},{"d":"2025-06-02","r":44.5},{"d":"2025-06-03","r":41.7},{"d":"2025-06-04","r":39.9},{"d":"2025-06-05","r":37.1},{"d":"2025-06-06","r":37.8},{"d":"2025-06-07","r":43},{"d":"2025-06-08","r":42.1},{"d":"2025-06-09","r":49.5},{"d":"2025-06-10","r":56.4},{"d":"2025-06-11","r":50.3},{"d":"2025-06-12","r":44.5},{"d":"2025-06-13","r":43.4},{"d":"2025-06-14","r":42.1},{"d":"2025-06-15","r":43.4},{"d":"2025-06-16","r":45.3},{"d":"2025-06-17","r":41},{"d":"2025-06-18","r":43.4},{"d":"2025-06-19","r":42.5},{"d":"2025-06-20","r":40.8},{"d":"2025-06-21","r":38.4},{"d":"2025-06-22","r":37.3},{"d":"2025-06-23","r":48.2},{"d":"2025-06-24","r":49},{"d":"2025-06-25","r":46.9},{"d":"2025-06-26","r":43.7},{"d":"2025-06-27","r":55.5},{"d":"2025-06-28","r":67.5},{"d":"2025-06-29","r":67.9},{"d":"2025-06-30","r":70},
{"d":"2025-07-01","r":69.2},{"d":"2025-07-02","r":72.5},{"d":"2025-07-03","r":75.7},{"d":"2025-07-04","r":72.7},{"d":"2025-07-05","r":69.8},{"d":"2025-07-06","r":68.6},{"d":"2025-07-07","r":59.2},{"d":"2025-07-08","r":61.2},{"d":"2025-07-09","r":62.9},{"d":"2025-07-10","r":71.1},{"d":"2025-07-11","r":81.1},{"d":"2025-07-12","r":79.8},{"d":"2025-07-13","r":86.3},{"d":"2025-07-14","r":85.7},{"d":"2025-07-15","r":87.5},{"d":"2025-07-16","r":80.7},{"d":"2025-07-17","r":78.3},{"d":"2025-07-18","r":80.4},{"d":"2025-07-19","r":75.3},{"d":"2025-07-20","r":75.5},{"d":"2025-07-21","r":81.6},{"d":"2025-07-22","r":85.9},{"d":"2025-07-23","r":78.1},{"d":"2025-07-24","r":70.1},{"d":"2025-07-25","r":72},{"d":"2025-07-26","r":74.6},{"d":"2025-07-27","r":75.5},{"d":"2025-07-28","r":67.7},{"d":"2025-07-29","r":62.5},{"d":"2025-07-30","r":57.7},{"d":"2025-07-31","r":54},
{"d":"2025-08-01","r":54.7},{"d":"2025-08-02","r":53},{"d":"2025-08-03","r":56.6},{"d":"2025-08-04","r":58.1},{"d":"2025-08-05","r":52},{"d":"2025-08-06","r":56},{"d":"2025-08-07","r":58.1},{"d":"2025-08-08","r":59.4},{"d":"2025-08-09","r":61.4},{"d":"2025-08-10","r":63.5},{"d":"2025-08-11","r":54.1},{"d":"2025-08-12","r":56},{"d":"2025-08-13","r":56.4},{"d":"2025-08-14","r":46.9},{"d":"2025-08-15","r":45.6},{"d":"2025-08-16","r":47.3},{"d":"2025-08-17","r":46.4},{"d":"2025-08-18","r":43},{"d":"2025-08-19","r":39.9},{"d":"2025-08-20","r":46.4},{"d":"2025-08-21","r":43.6},{"d":"2025-08-22","r":55.1},{"d":"2025-08-23","r":55.4},{"d":"2025-08-24","r":50.8},{"d":"2025-08-25","r":43.2},{"d":"2025-08-26","r":45.6},{"d":"2025-08-27","r":43.8},{"d":"2025-08-28","r":44.7},{"d":"2025-08-29","r":42.5},{"d":"2025-08-30","r":43.8},{"d":"2025-08-31","r":42.5},
{"d":"2025-09-01","r":41.5},{"d":"2025-09-02","r":47.7},{"d":"2025-09-03","r":46.9},{"d":"2025-09-04","r":42.4},{"d":"2025-09-05","r":44.3},{"d":"2025-09-06","r":43},{"d":"2025-09-07","r":51.2},{"d":"2025-09-08","r":56.1},{"d":"2025-09-09","r":55.5},{"d":"2025-09-10","r":58},{"d":"2025-09-11","r":58.1},{"d":"2025-09-12","r":61.4},{"d":"2025-09-13","r":61.6},{"d":"2025-09-14","r":55.5},{"d":"2025-09-15","r":51},{"d":"2025-09-16","r":53.4},{"d":"2025-09-17","r":58.1},{"d":"2025-09-18","r":62.6},{"d":"2025-09-19","r":55.5},{"d":"2025-09-20","r":53.8},{"d":"2025-09-21","r":48.2},{"d":"2025-09-22","r":43.4},{"d":"2025-09-23","r":40.1},{"d":"2025-09-24","r":41.8},{"d":"2025-09-25","r":35.8},{"d":"2025-09-26","r":41},{"d":"2025-09-27","r":39.8},{"d":"2025-09-28","r":43},{"d":"2025-09-29","r":41},{"d":"2025-09-30","r":40.4},
{"d":"2025-10-01","r":50.3},{"d":"2025-10-02","r":51.5},{"d":"2025-10-03","r":51.6},{"d":"2025-10-04","r":47.3},{"d":"2025-10-05","r":50.8},{"d":"2025-10-06","r":54},{"d":"2025-10-07","r":47.3},{"d":"2025-10-08","r":52.9},{"d":"2025-10-09","r":46.9},{"d":"2025-10-10","r":36},{"d":"2025-10-11","r":32.8},{"d":"2025-10-12","r":42.1},{"d":"2025-10-13","r":43.8},{"d":"2025-10-14","r":40.4},{"d":"2025-10-15","r":38.6},{"d":"2025-10-16","r":36.9},{"d":"2025-10-17","r":35.6},{"d":"2025-10-18","r":36.2},{"d":"2025-10-19","r":38.6},{"d":"2025-10-20","r":39.2},{"d":"2025-10-21","r":37.3},{"d":"2025-10-22","r":34.5},{"d":"2025-10-23","r":36.5},{"d":"2025-10-24","r":38.4},{"d":"2025-10-25","r":39.5},{"d":"2025-10-26","r":42.7},{"d":"2025-10-27","r":40.4},{"d":"2025-10-28","r":38.4},{"d":"2025-10-29","r":40.8},{"d":"2025-10-30","r":34.7},{"d":"2025-10-31","r":33.7},
{"d":"2025-11-01","r":33.7},{"d":"2025-11-02","r":33},{"d":"2025-11-03","r":28.2},{"d":"2025-11-04","r":26.2},{"d":"2025-11-05","r":30.8},{"d":"2025-11-06","r":29.1},{"d":"2025-11-07","r":34.7},{"d":"2025-11-08","r":32.8},{"d":"2025-11-09","r":36},{"d":"2025-11-10","r":39.5},{"d":"2025-11-11","r":34.9},{"d":"2025-11-12","r":34.3},{"d":"2025-11-13","r":35.3}
],
"ma":[
{"d":"2025-01-13","m":55.1},{"d":"2025-01-15","m":54.2},{"d":"2025-01-17","m":52.5},{"d":"2025-01-20","m":48.2},{"d":"2025-01-23","m":44.7},{"d":"2025-01-26","m":42.1},{"d":"2025-01-28","m":38.6},{"d":"2025-01-31","m":34.3},{"d":"2025-02-03","m":31.7},{"d":"2025-02-06","m":29.1},{"d":"2025-02-09","m":26.7},{"d":"2025-02-12","m":25.9},{"d":"2025-02-16","m":26.2},{"d":"2025-02-19","m":25.9},{"d":"2025-02-22","m":26.7},{"d":"2025-02-25","m":28},{"d":"2025-02-28","m":29.7},{"d":"2025-03-03","m":32.1},{"d":"2025-03-06","m":33.3},{"d":"2025-03-10","m":33.3},{"d":"2025-03-16","m":33.6},{"d":"2025-03-19","m":36},{"d":"2025-03-23","m":38.6},{"d":"2025-03-27","m":43},{"d":"2025-03-30","m":42.8},{"d":"2025-04-02","m":41.2},{"d":"2025-04-05","m":39},{"d":"2025-04-08","m":35.6},{"d":"2025-04-10","m":33.9},{"d":"2025-04-13","m":35.6},{"d":"2025-04-16","m":37.3},{"d":"2025-04-19","m":39.9},{"d":"2025-04-22","m":46},{"d":"2025-04-25","m":51.2},{"d":"2025-04-28","m":59},{"d":"2025-05-01","m":65.1},{"d":"2025-05-05","m":69},{"d":"2025-05-09","m":69.7},{"d":"2025-05-12","m":67.7},{"d":"2025-05-16","m":66},{"d":"2025-05-22","m":63.2},{"d":"2025-05-27","m":56.8},{"d":"2025-06-02","m":50.3},{"d":"2025-06-07","m":44.3},{"d":"2025-06-12","m":44},{"d":"2025-06-17","m":44.1},{"d":"2025-06-20","m":44.7},{"d":"2025-06-26","m":43.2},{"d":"2025-06-29","m":47.7},{"d":"2025-07-03","m":57.3},{"d":"2025-07-06","m":62.9},{"d":"2025-07-09","m":65.1},{"d":"2025-07-12","m":71.1},{"d":"2025-07-15","m":74.6},{"d":"2025-07-19","m":75.7},{"d":"2025-07-21","m":77.7},{"d":"2025-07-23","m":81.1},{"d":"2025-07-27","m":79.4},{"d":"2025-08-01","m":70.3},{"d":"2025-08-04","m":66},{"d":"2025-08-06","m":61.6},{"d":"2025-08-11","m":56.8},{"d":"2025-08-16","m":54.7},{"d":"2025-08-22","m":50.3},{"d":"2025-08-27","m":46.9},{"d":"2025-08-31","m":45.8},{"d":"2025-09-04","m":46.2},{"d":"2025-09-06","m":44.3},{"d":"2025-09-10","m":47.7},{"d":"2025-09-14","m":52},{"d":"2025-09-18","m":55.5},{"d":"2025-09-20","m":56.6},{"d":"2025-09-23","m":53.8},{"d":"2025-09-27","m":48.2},{"d":"2025-10-01","m":45.1},{"d":"2025-10-05","m":44},{"d":"2025-10-09","m":47.1},{"d":"2025-10-13","m":46.3},{"d":"2025-10-17","m":43},{"d":"2025-10-22","m":38.6},{"d":"2025-10-27","m":38.4},{"d":"2025-11-01","m":37.6},{"d":"2025-11-04","m":36},{"d":"2025-11-08","m":34.3},{"d":"2025-11-12","m":33},{"d":"2025-11-13","m":33.2}
]
},
"vconcat":[
{
"width":2010,"height":51.5,
"data":{"values":[{"d":"2024-10-26T12:00:00Z","y":0.417,"t":"cryptodailyuk created with TradingView.com, Nov 13, 2025 13:07 UTC+1"}]},
"mark":{"type":"text","align":"left","baseline":"middle","fontSize":22.5,"color":"#f0f0f0"},
"encoding":{
"x":{"field":"d","type":"temporal","axis":null,"scale":{"type":"utc","domain":[{"year":2024,"month":10,"date":26,"hours":7,"utc":true},{"year":2026,"month":1,"date":23,"hours":10,"utc":true}]}},
"y":{"field":"y","type":"quantitative","axis":null,"scale":{"domain":[0,1]}},
"text":{"field":"t"}
}
},
{
"width":2010,"height":888.5,
"view":{"fill":"#ffffff","stroke":"#ffffff","strokeWidth":1},
"encoding":{
"x":{"field":"d","type":"temporal","axis":null,"scale":{"type":"utc","padding":0,"domain":[{"year":2024,"month":10,"date":26,"hours":7,"utc":true},{"year":2026,"month":1,"date":23,"hours":10,"utc":true}]}},
"y":{"field":"p","type":"quantitative","title":null,"scale":{"domain":[-0.000488,0.05178]},
"axis":{"orient":"right","values":[0,0.005,0.01,0.02,0.025,0.03,0.035,0.04,0.045],"format":".6f","grid":false,"domain":false,"ticks":false,"labelPadding":-139.75,"labelAlign":"left","labelFontSize":22.5,"labelColor":"#bcbdc4","labelFont":"Inter"}}
},
"layer":[
{"data":{"values":[
{"p":0,"a":"2024-10-26T07:00:00Z","b":"2025-12-18T18:00:00Z"},{"p":0.005,"a":"2024-10-26T07:00:00Z","b":"2025-12-18T18:00:00Z"},{"p":0.01,"a":"2024-10-26T07:00:00Z","b":"2025-12-18T18:00:00Z"},{"p":0.015,"a":"2024-10-26T07:00:00Z","b":"2025-12-18T18:00:00Z"},{"p":0.02,"a":"2024-10-26T07:00:00Z","b":"2025-12-18T18:00:00Z"},{"p":0.025,"a":"2024-10-26T07:00:00Z","b":"2025-12-18T18:00:00Z"},{"p":0.03,"a":"2024-10-26T07:00:00Z","b":"2025-12-18T18:00:00Z"},{"p":0.035,"a":"2024-10-26T07:00:00Z","b":"2025-12-18T18:00:00Z"},{"p":0.04,"a":"2024-10-26T07:00:00Z","b":"2025-12-18T18:00:00Z"},{"p":0.045,"a":"2024-10-26T07:00:00Z","b":"2025-12-18T18:00:00Z"},{"p":0.05,"a":"2024-10-26T07:00:00Z","b":"2025-12-18T18:00:00Z"}]},
"mark":{"type":"rule","color":"#f0f1f4","strokeWidth":1.5},
"encoding":{"x":{"field":"a","type":"temporal","axis":null},"x2":{"field":"b"}}},
{"data":{"name":"months"},
"mark":{"type":"rule","color":"#f0f1f4","strokeWidth":1.5},
"encoding":{"y":{"field":"plo","type":"quantitative","title":null},"y2":{"field":"phi"}}},
{"data":{"values":[{"d":"2024-10-29T18:00:00Z","p":0.05004,"t":"PENGU / TetherUS · 1D · Binance"}]},
"mark":{"type":"text","align":"left","baseline":"middle","fontSize":22.5,"color":"#c4c6cc"},
"encoding":{"text":{"field":"t"}}},
{"data":{"name":"ohlc"},
"mark":{"type":"rule","strokeWidth":1.6},
"encoding":{
"y":{"field":"h","type":"quantitative","title":null},"y2":{"field":"l"},
"color":{"condition":{"test":"datum.c>=datum.o","value":"#089981"},"value":"#f23645"}}},
{"data":{"name":"ohlc"},
"mark":{"type":"bar","size":3,"orient":"vertical","strokeWidth":0.8},
"encoding":{
"y":{"field":"o","type":"quantitative","title":null},"y2":{"field":"c"},
"color":{"condition":{"test":"datum.c>=datum.o","value":"#089981"},"value":"#f23645"},
"stroke":{"condition":{"test":"datum.c>=datum.o","value":"#089981"},"value":"#f23645"}}},
{"data":{"values":[{"p":0.017069,"a":"2024-10-26T07:00:00Z","b":"2025-12-18T18:00:00Z"}]},
"mark":{"type":"rule","color":"#2962ff","strokeWidth":3.4},
"encoding":{"x":{"field":"a","type":"temporal","axis":null},"x2":{"field":"b"}}},
{"data":{"values":[{"p":0.014589,"a":"2024-10-26T07:00:00Z","b":"2025-12-18T18:00:00Z"}]},
"mark":{"type":"rule","color":"#ff9800","strokeWidth":3.4},
"encoding":{"x":{"field":"a","type":"temporal","axis":null},"x2":{"field":"b"}}},
{"data":{"values":[{"p":0.014528,"a":"2024-10-26T07:00:00Z","b":"2025-12-18T18:00:00Z"}]},
"mark":{"type":"rule","color":"#089981","strokeWidth":1.5,"strokeDash":[1.5,3.5]},
"encoding":{"x":{"field":"a","type":"temporal","axis":null},"x2":{"field":"b"}}},
{"data":{"values":[
{"d":"2025-07-22T22:00:00Z","p":0.04653,"k":"upper"},{"d":"2025-11-15T22:00:00Z","p":0.02945,"k":"upper"},
{"d":"2025-07-22T20:00:00Z","p":0.03241,"k":"lower"},{"d":"2025-11-15T22:00:00Z","p":0.01529,"k":"lower"}]},
"mark":{"type":"line","color":"#000000","strokeWidth":2},
"encoding":{"detail":{"field":"k"}}},
{"data":{"values":[{"d":"2025-08-21T22:00:00Z","p":0.01877,"t":"Resistance"},{"d":"2025-08-19T22:00:00Z","p":0.01316,"t":"Support"}]},
"mark":{"type":"text","align":"center","baseline":"middle","fontSize":36.5,"fontWeight":700,"color":"#000000"},
"encoding":{"text":{"field":"t"}}},
{"data":{"values":[{"a":"2025-12-20T00:00:00Z","b":"2026-01-21T20:00:00Z","top":0.05133,"bot":0.04851}]},
"mark":{"type":"rect","fill":"#ffffff","stroke":"#eeeef0","strokeWidth":1.5,"cornerRadius":6},
"encoding":{"x":{"field":"a","type":"temporal","axis":null},"x2":{"field":"b"},"y":{"field":"top","type":"quantitative","title":null},"y2":{"field":"bot"}}},
{"data":{"values":[{"d":"2025-12-24T10:00:00Z","p":0.04992,"t":"USDT"}]},
"mark":{"type":"text","align":"left","baseline":"middle","fontSize":22,"fontWeight":500,"color":"#131722"},
"encoding":{"text":{"field":"t"}}},
{"data":{"values":[{"k":"blue","top":0.01922,"bot":0.01735,"a":"2025-12-19T02:00:00Z","b":"2026-01-17T20:00:00Z"},{"k":"orange","top":0.01732,"bot":0.01545,"a":"2025-12-19T02:00:00Z","b":"2026-01-17T20:00:00Z"},{"k":"green","top":0.01545,"bot":0.01204,"a":"2025-12-19T02:00:00Z","b":"2026-01-17T20:00:00Z"}]},
"mark":{"type":"rect","cornerRadius":3},
"encoding":{"x":{"field":"a","type":"temporal","axis":null},"x2":{"field":"b"},
"y":{"field":"top","type":"quantitative","title":null},"y2":{"field":"bot"},
"fill":{"field":"k","type":"nominal","legend":null,"scale":{"domain":["blue","orange","green"],"range":["#2962ff","#ff9800","#089981"]}}}},
{"data":{"values":[{"d":"2025-12-22T20:00:00Z","p":0.01828,"t":"0.017069","k":"a"},{"d":"2025-12-22T20:00:00Z","p":0.01638,"t":"0.014589","k":"b"},{"d":"2025-12-22T20:00:00Z","p":0.01457,"t":"0.014528","k":"a"},{"d":"2025-12-22T20:00:00Z","p":0.01296,"t":"11:52:44","k":"c"}]},
"mark":{"type":"text","align":"left","baseline":"middle","fontSize":22.5},
"encoding":{"text":{"field":"t"},
"color":{"field":"k","type":"nominal","legend":null,"scale":{"domain":["a","b","c"],"range":["#ffffff","#131722","#cfe9e2"]}}}}
]
},
{
"width":2010,"height":357.5,
"view":{"fill":"#ffffff","stroke":"#ffffff","strokeWidth":1},
"encoding":{
"x":{"field":"d","type":"temporal","title":null,"scale":{"type":"utc","domain":[{"year":2024,"month":10,"date":26,"hours":7,"utc":true},{"year":2026,"month":1,"date":23,"hours":10,"utc":true}]},
"axis":{"orient":"bottom","values":[{"year":2025,"month":1,"date":1,"utc":true},{"year":2025,"month":2,"date":1,"utc":true},{"year":2025,"month":3,"date":1,"utc":true},{"year":2025,"month":4,"date":1,"utc":true},{"year":2025,"month":5,"date":1,"utc":true},{"year":2025,"month":6,"date":1,"utc":true},{"year":2025,"month":7,"date":1,"utc":true},{"year":2025,"month":8,"date":1,"utc":true},{"year":2025,"month":9,"date":1,"utc":true},{"year":2025,"month":10,"date":1,"utc":true},{"year":2025,"month":11,"date":1,"utc":true},{"year":2025,"month":12,"date":1,"utc":true}],
"labelExpr":"utcmonth(datum.value)==0?'2025':utcFormat(datum.value,'%b')","labelFontWeight":{"condition":{"test":"utcmonth(datum.value)==0","value":"bold"},"value":"normal"},
"grid":false,"domain":false,"ticks":false,"labelPadding":-36,"labelBaseline":"top","labelFontSize":21.5,"labelColor":"#b8b9c1","labelFont":"Inter"}},
"y":{"field":"r","type":"quantitative","title":null,"scale":{"domain":[3.3,96.3]},
"axis":{"orient":"right","values":[20,40,60,80],"format":".2f","grid":false,"domain":false,"ticks":false,"labelPadding":-139.75,"labelAlign":"left","labelFontSize":22.5,"labelColor":"#bcbdc4","labelFont":"Inter"}}
},
"layer":[
{"data":{"values":[{"r":20,"a":"2024-10-26T07:00:00Z","b":"2025-12-18T18:00:00Z"},{"r":40,"a":"2024-10-26T07:00:00Z","b":"2025-12-18T18:00:00Z"},{"r":60,"a":"2024-10-26T07:00:00Z","b":"2025-12-18T18:00:00Z"},{"r":80,"a":"2024-10-26T07:00:00Z","b":"2025-12-18T18:00:00Z"}]},
"mark":{"type":"rule","color":"#f0f1f4","strokeWidth":1.5},
"encoding":{"x":{"field":"a","type":"temporal","title":null},"x2":{"field":"b"}}},
{"data":{"name":"months"},
"mark":{"type":"rule","color":"#f0f1f4","strokeWidth":1.5},
"encoding":{"y":{"field":"rhi","type":"quantitative","title":null},"y2":{"field":"rlo"}}},
{"data":{"values":[{"a":"2024-10-26T07:00:00Z","b":"2025-12-18T18:00:00Z","hi":70,"lo":30}]},
"mark":{"type":"rect","fill":"#7e57c2","fillOpacity":0.1},
"encoding":{"x":{"field":"a","type":"temporal","title":null},"x2":{"field":"b"},"y":{"field":"hi","type":"quantitative","title":null},"y2":{"field":"lo"}}},
{"data":{"values":[{"r":70,"a":"2024-10-26T07:00:00Z","b":"2025-12-18T18:00:00Z"},{"r":30,"a":"2024-10-26T07:00:00Z","b":"2025-12-18T18:00:00Z"}]},
"mark":{"type":"rule","color":"#787b86","strokeWidth":1.6,"strokeDash":[11,9]},
"encoding":{"x":{"field":"a","type":"temporal","title":null},"x2":{"field":"b"}}},
{"data":{"values":[{"r":50,"a":"2024-10-26T07:00:00Z","b":"2025-12-18T18:00:00Z"}]},
"mark":{"type":"rule","color":"#787b86","strokeOpacity":0.5,"strokeWidth":1.6,"strokeDash":[11,9]},
"encoding":{"x":{"field":"a","type":"temporal","title":null},"x2":{"field":"b"}}},
{"data":{"values":[
{"d":"2025-04-24T12:00:00Z","r":70,"g":"a"},{"d":"2025-04-25","r":72.5,"g":"a"},{"d":"2025-04-26","r":76.8,"g":"a"},{"d":"2025-04-27","r":83.6,"g":"a"},{"d":"2025-04-28","r":76.8,"g":"a"},{"d":"2025-04-29","r":70.7,"g":"a"},{"d":"2025-04-30","r":70,"g":"a"},
{"d":"2025-07-09T20:00:00Z","r":70,"g":"b"},{"d":"2025-07-10","r":71.1,"g":"b"},{"d":"2025-07-11","r":81.1,"g":"b"},{"d":"2025-07-12","r":79.8,"g":"b"},{"d":"2025-07-13","r":86.3,"g":"b"},{"d":"2025-07-14","r":85.7,"g":"b"},{"d":"2025-07-15","r":87.5,"g":"b"},{"d":"2025-07-16","r":80.7,"g":"b"},{"d":"2025-07-17","r":78.3,"g":"b"},{"d":"2025-07-18","r":80.4,"g":"b"},{"d":"2025-07-19","r":75.3,"g":"b"},{"d":"2025-07-20","r":75.5,"g":"b"},{"d":"2025-07-21","r":81.6,"g":"b"},{"d":"2025-07-22","r":85.9,"g":"b"},{"d":"2025-07-23","r":78.1,"g":"b"},{"d":"2025-07-24","r":70,"g":"b"},
{"d":"2025-07-24","r":70,"g":"c"},{"d":"2025-07-25","r":72,"g":"c"},{"d":"2025-07-26","r":74.6,"g":"c"},{"d":"2025-07-27","r":75.5,"g":"c"},{"d":"2025-07-27T12:00:00Z","r":70,"g":"c"}]},
"mark":{"type":"area","color":{"gradient":"linear","x1":0,"y1":0,"x2":0,"y2":1,"stops":[{"offset":0,"color":"#4a9c5d"},{"offset":1,"color":"#ffffff"}]},"opacity":0.85},
"encoding":{"y2":{"datum":70},"detail":{"field":"g"}}},
{"data":{"values":[
{"d":"2025-02-07","r":23.6},{"d":"2025-02-09","r":24.7},{"d":"2025-02-11","r":24.6},{"d":"2025-02-13","r":26.7},{"d":"2025-02-16","r":27.6},{"d":"2025-02-19","r":24},{"d":"2025-02-21","r":27.8}]},
"mark":{"type":"area","color":{"gradient":"linear","x1":0,"y1":0,"x2":0,"y2":1,"stops":[{"offset":0,"color":"#ffffff"},{"offset":1,"color":"#f8c4cc"}]},"opacity":0.6},
"encoding":{"y2":{"datum":30}}},
{"data":{"name":"rsi"},
"mark":{"type":"line","color":"#7e57c2","strokeWidth":1.6}},
{"data":{"name":"ma"},
"mark":{"type":"line","color":"#f6dc5c","strokeWidth":1.8,"interpolate":"monotone"},
"encoding":{"y":{"field":"m","type":"quantitative","title":null}}},
{"data":{"values":[{"d":"2025-07-22","r":85.9},{"d":"2025-12-07","r":28.04}]},
"mark":{"type":"line","color":"#000000","strokeWidth":2}},
{"data":{"values":[{"d":"2024-10-29T18:00:00Z","r":87.6,"t":"RSI"}]},
"mark":{"type":"text","align":"left","baseline":"middle","fontSize":21,"color":"#b8b9c1"},
"encoding":{"text":{"field":"t"}}}
]
},
{
"width":2010,"height":113.5,
"encoding":{
"x":{"field":"d","type":"temporal","axis":null,"scale":{"type":"utc","domain":[{"year":2024,"month":10,"date":26,"hours":7,"utc":true},{"year":2026,"month":1,"date":23,"hours":10,"utc":true}]}},
"y":{"field":"y","type":"quantitative","axis":null,"scale":{"domain":[0,1]}}
},
"layer":[
{"data":{"values":[{"d":"2024-11-02T14:00:00Z","y":0.51}]},
"mark":{"type":"point","filled":true,"opacity":1,"color":"#e8e8e8","size":3249,"shape":"M-0.222 0.5L-0.611 0.5L-0.611 -0.111L-1 -0.111L-1 -0.5L-0.222 -0.5ZM0.556 0.5L0.111 0.5L0.528 -0.5L0.972 -0.5ZM-0.111 -0.278a0.222 0.222 0 1 0 0.444 0a0.222 0.222 0 1 0 -0.444 0Z"}},
{"data":{"values":[{"d":"2024-11-11T12:00:00Z","y":0.51,"t":"TradingView"}]},
"mark":{"type":"text","align":"left","baseline":"middle","fontSize":38,"fontWeight":600,"color":"#e8e8e8"},
"encoding":{"text":{"field":"t"}}}
]
}
]
}
